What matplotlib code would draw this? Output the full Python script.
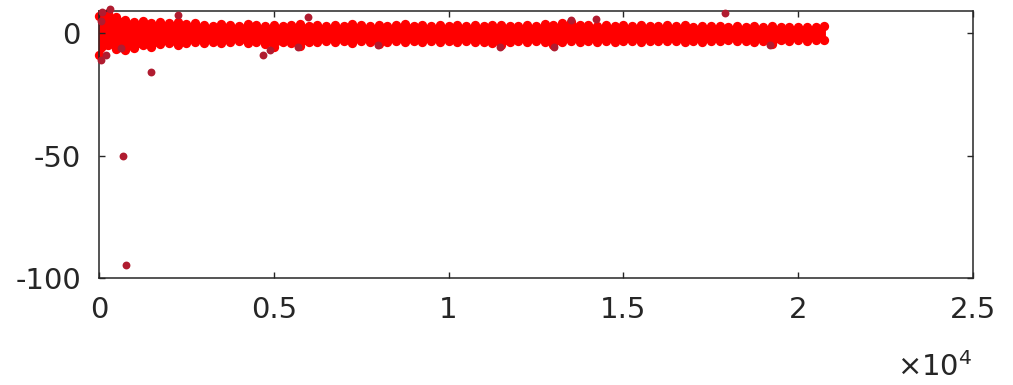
import matplotlib
matplotlib.use("Agg")
import matplotlib.pyplot as plt
from matplotlib.ticker import FuncFormatter
import numpy as np

# sample index where the band envelope was read (every 250 samples)
band_x = np.arange(0, 21000, 250)
band_upper = [7, 8, 6.5, 5.5, 4.5, 5, 4, 4.5, 4, 4.5, 3.5, 4, 3.3, 3, 3.8, 3.3,
              3, 3.6, 3.1, 2.8, 3.3, 3, 3.4, 3.8, 3, 3.3, 2.8, 3.2, 3, 3.6, 3.1, 2.8,
              3.2, 2.9, 3.4, 3.8, 3, 3.3, 2.8, 3.1, 3, 3.4, 2.9, 3.2, 2.8, 3.1, 3.4, 3,
              2.8, 3.2, 3, 3.6, 3.3, 4, 4.6, 3.1, 3.4, 3, 3.3, 2.8, 3.1, 2.9, 3.4, 3,
              2.7, 3.2, 2.9, 3.3, 2.6, 3, 2.7, 2.9, 2.5, 2.8, 2.6, 3, 2.5, 2.7, 2.4, 2.6,
              2.3, 2.5, 2.3, 2.7]
band_lower = [-9, -5, -6.5, -7, -6, -5, -5.5, -4.5, -4, -5, -4, -3.5, -4, -3.5, -4.2, -3.6,
              -3.4, -4, -3.5, -4.5, -5.5, -3.6, -4, -5.2, -3.5, -3.8, -3.3, -3.7, -3.4, -3.9, -3.3, -3.6,
              -4.6, -3.5, -3.3, -3.7, -3.4, -3.6, -3.2, -3.8, -3.3, -3.6, -3.4, -3.7, -3.5, -4, -5, -3.6,
              -3.3, -3.7, -3.4, -3.6, -5, -3.5, -3.2, -3.6, -3.3, -3.5, -3.2, -3.6, -3.4, -3.2, -3.6, -3.3,
              -3.1, -3.4, -3.2, -3.5, -3.1, -3.6, -3.2, -3.4, -3, -3.3, -3.1, -3.5, -3.2, -4.3, -3, -3.2,
              -2.9, -3.1, -2.8, -3]

# isolated points away from the band
out_x = [50, 60, 100, 200, 314, 629, 686, 771, 1486, 2257, 4686, 4886, 5686,
         5971, 7971, 11457, 13029, 13514, 14229, 17914, 19200]
out_y = [5, -11, 8.5, -9, 10, -6, -50, -94.5, -16, 7.3, -9, -7, -5.7,
         6.5, -5, -5.7, -5.7, 5.3, 5.7, 8.1, -5]

plt.rcParams['font.family'] = ['DejaVu Sans']
plt.rcParams['mathtext.fontset'] = 'dejavusans'

fig = plt.figure(figsize=(10.13, 3.85), dpi=100)
ax = fig.add_axes([0.0977, 0.2779, 0.8628, 0.6935])

red = '#ff0000'
ax.fill_between(band_x, band_lower, band_upper, color=red, lw=1.5, ec=red, clip_on=False)
ax.scatter(band_x, band_upper, s=45, color=red, lw=0, clip_on=False)
ax.scatter(band_x, band_lower, s=45, color=red, lw=0, clip_on=False)
ax.scatter(out_x, out_y, s=32, color='#b01c30', lw=0, clip_on=False, zorder=3)

ax.set_xlim(0, 25000)
ax.set_ylim(-100, 9)
ax.set_xticks([0, 5000, 10000, 15000, 20000, 25000])
ax.set_yticks([-100, -50, 0])
ax.xaxis.set_major_formatter(FuncFormatter(lambda v, p: '%g' % (v / 1e4)))
ax.yaxis.set_major_formatter(FuncFormatter(lambda v, p: '%d' % v))

for sp in ax.spines.values():
    sp.set_color('#262626')
    sp.set_linewidth(1.1)
ax.tick_params(direction='in', length=4, width=1.0, color='#262626',
               top=True, right=True, labelsize=21, labelcolor='#262626', pad=13)
ax.text(1.0, -0.367, r'$\times 10^{4}$', transform=ax.transAxes, ha='right',
        va='baseline', fontsize=21, color='#262626')

fig.savefig('out.png', dpi=100, facecolor='white')
